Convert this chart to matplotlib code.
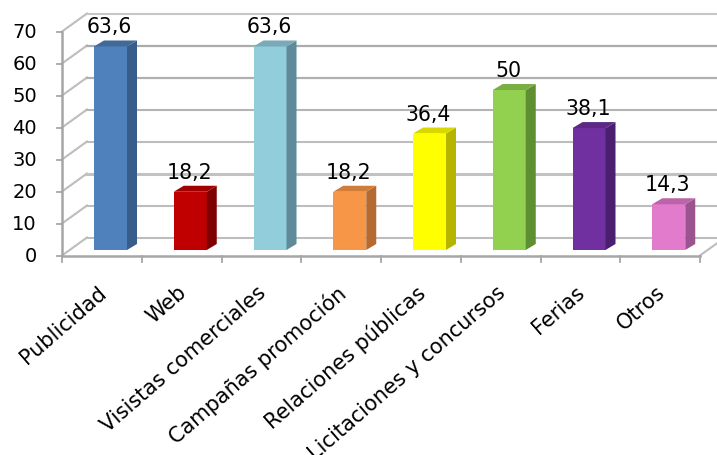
import matplotlib
matplotlib.use('Agg')
import matplotlib.pyplot as plt
from matplotlib.patches import Polygon

categories = ['Publicidad', 'Web', 'Visistas comerciales', 'Campañas promoción',
              'Relaciones públicas', 'Licitaciones y concursos', 'Ferias', 'Otros']
values = [63.6, 18.2, 63.6, 18.2, 36.4, 50, 38.1, 14.3]
value_labels = ['63,6', '18,2', '63,6', '18,2', '36,4', '50', '38,1', '14,3']
yticks = [0, 10, 20, 30, 40, 50, 60, 70]

front_colors = ['#4F81BD', '#C00000', '#92CDDC', '#F79646', '#FFFF00', '#92D050', '#7030A0', '#E27BCB']
side_colors = ['#385D8A', '#7F0000', '#5F8A9A', '#B46A30', '#B5B500', '#5F8F33', '#4B1F70', '#9A5590']
top_colors = ['#41699A', '#A00000', '#7AAAB8', '#D07D3A', '#D8D800', '#7AAE42', '#5C2785', '#BB65A8']
grid_widths = [1.5, 1.5, 2.2, 1.5, 1.5, 1.6, 1.6, 1.5]
grid_colors = ['#BDBDBD', '#BDBDBD', '#C2C2C2', '#BDBDBD', '#B4B4B4', '#B0B0B0', '#ABABAB', '#C6C6C6']

W, H = 717, 456
x_left, x_right = 62, 700
y_zero, y_top = 256.5, 32.5

fig = plt.figure(figsize=(W / 100, H / 100), dpi=100)
ax = fig.add_axes([x_left / W, 1 - y_zero / H, (x_right - x_left) / W, (y_zero - y_top) / H])
ax.set_xlim(0, len(categories))
ax.set_ylim(0, 70)
ax.axis('off')

# pixel sizes -> data units for the fake 3d look
px_x = len(categories) / (x_right - x_left)
px_y = 70 / (y_zero - y_top)
wall_dx = 25 * px_x
wall_dy = 18 * px_y
bar_dx = 10 * px_x
bar_dy = 6 * px_y
bar_w = 33 * px_x
bar_off = 32 * px_x
bar_base = 5.5 * px_y

axis_color = '#A6A6A6'
label_size = 15
value_size = 14.8
tick_size = 14

for k, t in enumerate(yticks):
    ax.plot([0, wall_dx], [t, t + wall_dy], color='#BDBDBD', lw=1.5, clip_on=False, zorder=1)
    ax.plot([wall_dx, len(categories) + wall_dx], [t + wall_dy, t + wall_dy], color=grid_colors[k],
            lw=grid_widths[k], clip_on=False, zorder=1)
    ax.plot([-5 * px_x, 0], [t, t], color=axis_color, lw=1.3, clip_on=False, zorder=2)
    ax.text(-25 * px_x, t, str(t), ha='right', va='center', fontsize=tick_size, color='black')

ax.plot([0, 0], [0, 70], color=axis_color, lw=1.8, clip_on=False, zorder=2)
ax.plot([0, len(categories)], [0, 0], color=axis_color, lw=1.8, clip_on=False, zorder=2)
ax.plot([len(categories), len(categories) + wall_dx], [0, wall_dy], color='#BDBDBD', lw=1.5,
        clip_on=False, zorder=1)

for i in range(len(categories) + 1):
    ax.plot([i, i], [0, -6 * px_y], color=axis_color, lw=1.3, clip_on=False, zorder=2)

for i, v in enumerate(values):
    x0 = i + bar_off
    x1 = x0 + bar_w
    y0 = bar_base
    y1 = bar_base + v
    ax.add_patch(Polygon([(x0, y0), (x1, y0), (x1, y1), (x0, y1)], closed=True,
                         facecolor=front_colors[i], edgecolor='none', zorder=4, clip_on=False))
    ax.add_patch(Polygon([(x1, y0), (x1 + bar_dx, y0 + bar_dy), (x1 + bar_dx, y1 + bar_dy), (x1, y1)],
                         closed=True, facecolor=side_colors[i], edgecolor='none', zorder=4, clip_on=False))
    ax.add_patch(Polygon([(x0, y1), (x1, y1), (x1 + bar_dx, y1 + bar_dy), (x0 + bar_dx, y1 + bar_dy)],
                         closed=True, facecolor=top_colors[i], edgecolor='none', zorder=4, clip_on=False))
    ax.text(x0 + bar_w / 2 - 1 * px_x, y1 + 20 * px_y, value_labels[i], ha='center', va='center',
            fontsize=value_size, color='black', zorder=5)

for i, c in enumerate(categories):
    ax.text(i + 0.44, -26 * px_y, c, rotation=41, rotation_mode='anchor', ha='right', va='top',
            fontsize=label_size, color='black')

fig.savefig('out.png', dpi=100)
